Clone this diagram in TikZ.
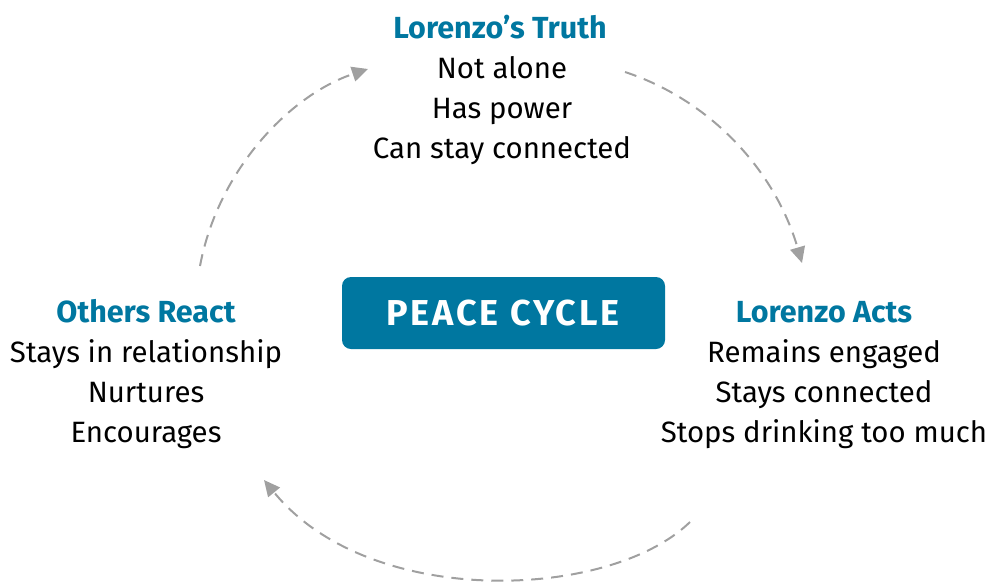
\documentclass[tikz,border=0pt]{standalone}
\usepackage{fontspec}
\setmainfont{Fira Sans}
\usetikzlibrary{arrows.meta}
\definecolor{peace}{HTML}{0077A0}
\definecolor{arcgray}{HTML}{A0A0A0}
\begin{document}
\begin{tikzpicture}[x=1pt,y=-1pt,
  txt/.style={anchor=base, inner sep=0pt, font=\fontsize{29.4}{34}\selectfont, text=black},
  ttl/.style={txt, font=\fontsize{30.5}{34}\selectfont\bfseries, text=peace},
  arcline/.style={arcgray, line width=2pt, dash pattern=on 12pt off 8pt,
    -{Triangle[length=16pt,width=15pt]}}
]
\useasboundingbox (0,0) rectangle (990,582);
% central box
\node[fill=peace, rounded corners=9pt, minimum width=323pt, minimum height=72pt,
  inner sep=0pt] (pc) at (503.5,313) {};
\node[anchor=base, inner sep=0pt, text=white,
  font=\fontsize{36}{40}\selectfont\bfseries\addfontfeature{LetterSpace=8}] (pct) at (503,325) {PEACE CYCLE};
% top group
\node[ttl] (t0) at (500,38) {Lorenzo’s Truth};
\node[txt] (t1) at (502,78) {Not alone};
\node[txt] (t2) at (502,118) {Has power};
\node[txt] (t3) at (502,158) {Can stay connected};
% left group
\node[ttl] (l0) at (146,322) {Others React};
\node[txt] (l1) at (146,362) {Stays in relationship};
\node[txt] (l2) at (146,402) {Nurtures};
\node[txt] (l3) at (146,442) {Encourages};
% right group
\node[ttl] (r0) at (824,322) {Lorenzo Acts};
\node[txt] (r1) at (824,362) {Remains engaged};
\node[txt] (r2) at (824,402) {Stays connected};
\node[txt] (r3) at (824,442) {Stops drinking too much};
% arc endpoints
\coordinate (a1s) at (200,266);
\coordinate (a1e) at (368,69);
\coordinate (a2s) at (625,72);
\coordinate (a2e) at (802,263);
\coordinate (a3s) at (690,522);
\coordinate (a3e) at (264,480);
\draw[arcline] (a1s) .. controls (218,170) and (290,95) .. (a1e);
\draw[arcline] (a2s) .. controls (710,100) and (775,170) .. (a2e);
\draw[arcline] (a3s) .. controls (610,600) and (370,610) .. (a3e);
\end{tikzpicture}
\end{document}
